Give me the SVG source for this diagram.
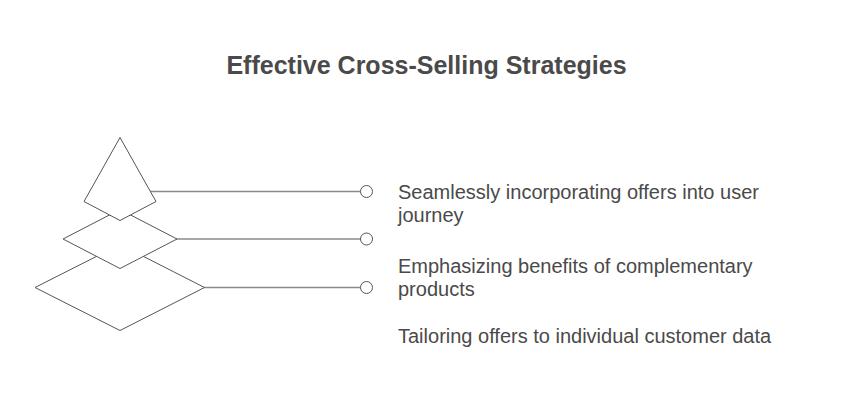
<svg xmlns="http://www.w3.org/2000/svg" width="852" height="408" viewBox="0 0 852 408">
<style>
.shape{fill:#ffffff;stroke:#555555;stroke-width:1;stroke-linejoin:miter}
.conn{stroke:#8a8a8a;stroke-width:1.5;fill:none}
.dot{fill:#ffffff;stroke:#555555;stroke-width:1}
.title{font-family:"Liberation Sans",Arial,sans-serif;font-weight:bold;font-size:25px;fill:#4a4a4a}
.lbl{font-family:"Liberation Sans",Arial,sans-serif;font-size:20px;fill:#4a4a4a}
</style>
<rect width="852" height="408" fill="#ffffff"/>
<text class="title" x="426.5" y="74" text-anchor="middle">Effective Cross-Selling Strategies</text>
<g id="connectors">
<line class="conn" x1="150" y1="191.5" x2="360.5" y2="191.5"/>
<line class="conn" x1="176" y1="239" x2="360.5" y2="239"/>
<line class="conn" x1="204" y1="287.5" x2="360.5" y2="287.5"/>
<circle class="dot" cx="366.5" cy="191.5" r="6"/>
<circle class="dot" cx="366.5" cy="239" r="6"/>
<circle class="dot" cx="366.5" cy="287.5" r="6"/>
</g>
<g id="level3">
<polygon class="shape" points="120,244.5 204.5,287.5 120,330.5 35,287.5"/>
</g>
<g id="level2">
<polygon class="shape" points="120,209.5 177,239 120,268.5 63,239"/>
</g>
<g id="level1">
<polygon class="shape" points="120,137.5 156,201.5 120,220.5 84,201.5"/>
</g>
<g id="label1">
<text class="lbl" x="398" y="198.5">Seamlessly incorporating offers into user</text>
<text class="lbl" x="398" y="222">journey</text>
</g>
<g id="label2">
<text class="lbl" x="398" y="272.5">Emphasizing benefits of complementary</text>
<text class="lbl" x="398" y="296">products</text>
</g>
<g id="label3">
<text class="lbl" x="398" y="342.5">Tailoring offers to individual customer data</text>
</g>
</svg>
